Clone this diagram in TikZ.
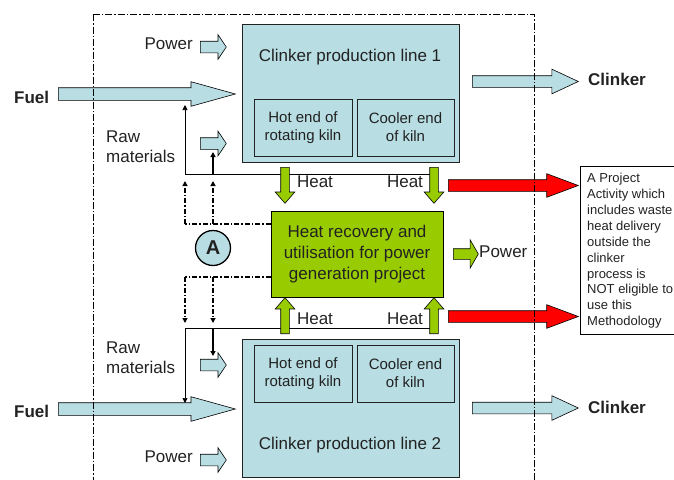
\documentclass[tikz,border=0pt]{standalone}
\usepackage{fontspec}
\setmainfont{Liberation Sans}
\usetikzlibrary{arrows.meta,shapes.arrows,backgrounds}
\definecolor{KilnBlue}{HTML}{B8DEE3}
\definecolor{RecGreen}{HTML}{99CC00}
\definecolor{LossRed}{HTML}{FF0000}
\definecolor{InkGray}{HTML}{222222}
\newcommand{\fs}[2]{\fontsize{#1}{#2}\selectfont}

\begin{document}
\begin{tikzpicture}[x=1pt,y=-1pt,
    every node/.style={text=InkGray},
    lbl/.style={font=\fs{17}{20}, inner sep=0pt},
    boldlbl/.style={font=\bfseries\fs{17}{20}, inner sep=0pt},
    kiln/.style={draw=InkGray, fill=KilnBlue, line width=0.8pt, inner sep=0pt},
    part/.style={kiln, align=center, font=\fs{15}{18}},
    barrow/.style={single arrow, draw=black, line width=0.6pt, inner sep=0pt, anchor=tail},
    fuelarr/.style={barrow, fill=KilnBlue, inner ysep=6pt, single arrow head extend=6pt, single arrow tip angle=31, minimum height=177pt},
    smallarr/.style={barrow, fill=KilnBlue, inner ysep=5.5pt, single arrow head extend=6.5pt, single arrow tip angle=112, minimum height=26pt, minimum width=24pt},
    clkarr/.style={barrow, fill=KilnBlue, inner ysep=5.5pt, single arrow head extend=6.5pt, single arrow tip angle=50, minimum height=106pt},
    lossarr/.style={barrow, fill=LossRed, inner ysep=5.5pt, single arrow head extend=6pt, single arrow tip angle=41, minimum height=130pt},
    heatarr/.style={barrow, fill=RecGreen, inner ysep=4pt, single arrow head extend=5.5pt, single arrow tip angle=82, minimum height=36pt},
    pwoarr/.style={barrow, fill=RecGreen, inner ysep=5pt, single arrow head extend=9pt, single arrow tip angle=120, minimum height=25pt, minimum width=28pt},
    feed/.style={draw=black, line width=0.7pt},
    feedthick/.style={draw=black, line width=1.6pt},
    fback/.style={draw=black, line width=1.3pt, dash pattern=on 5pt off 2pt on 1.5pt off 2pt},
    tip/.style={-{Triangle[length=5pt,width=5pt]}},
    frame/.style={draw=black, line width=0.7pt, dash pattern=on 7pt off 2pt on 1.5pt off 2pt}]
  \useasboundingbox (0,0) rectangle (674,479);

  % clinker production lines
  \node[kiln, minimum width=217pt, minimum height=138pt, anchor=north west] (line1) at (242,24) {};
  \node[lbl] (line1t) at (350,57) {Clinker production line 1};
  \node[part, minimum width=98pt, minimum height=57pt] (hot1) at (303,127.5) {Hot end of\\rotating kiln};
  \node[part, minimum width=97pt, minimum height=57pt] (cool1) at (405.5,127.5) {Cooler end\\of kiln};
  \node[kiln, minimum width=217pt, minimum height=138pt, anchor=north west] (line2) at (242,339) {};
  \node[lbl] (line2t) at (350,445) {Clinker production line 2};
  \node[part, minimum width=98pt, minimum height=57pt] (hot2) at (303,373.5) {Hot end of\\rotating kiln};
  \node[part, minimum width=97pt, minimum height=57pt] (cool2) at (405.5,373.5) {Cooler end\\of kiln};

  % inputs
  \node[fuelarr] (fuel1) at (58,94) {};
  \node[boldlbl, anchor=west] (fuellbl1) at (14,97) {Fuel};
  \node[fuelarr] (fuel2) at (58,409) {};
  \node[boldlbl, anchor=west] (fuellbl2) at (14,411) {Fuel};
  \node[smallarr] (pw1) at (200,47) {};
  \node[lbl, anchor=east] (pwlbl1) at (193,44) {Power};
  \node[smallarr] (pw2) at (200,460) {};
  \node[lbl, anchor=east] (pwlbl2) at (193,457) {Power};
  \node[smallarr] (raw1) at (200,143.5) {};
  \node[lbl, align=left, anchor=north west] (rawlbl1) at (106,131) {Raw\\materials};
  \node[smallarr] (raw2) at (200,365) {};
  \node[lbl, align=left, anchor=north west] (rawlbl2) at (106,342) {Raw\\materials};

  % outputs
  \node[clkarr] (clk1) at (472,81.5) {};
  \node[boldlbl, anchor=west] (clklbl1) at (588,79) {Clinker};
  \node[clkarr] (clk2) at (472,408) {};
  \node[boldlbl, anchor=west] (clklbl2) at (588,407) {Clinker};

  % heat recovery
  \node[draw=black, fill=RecGreen, line width=0.8pt, minimum width=172pt, minimum height=86pt,
        align=center, font=\fs{17}{21}] (hrec) at (357,254) {Heat recovery and\\utilisation for power\\generation project};
  \node[heatarr, rotate=-90] (hd1) at (285,167) {};
  \node[heatarr, rotate=-90] (hd2) at (434,167) {};
  \node[heatarr, rotate=90] (hu1) at (285,334) {};
  \node[heatarr, rotate=90] (hu2) at (434,334) {};
  \node[lbl] (htlbl1) at (315,182) {Heat};
  \node[lbl] (htlbl2) at (405,182) {Heat};
  \node[lbl] (htlbl3) at (315,319) {Heat};
  \node[lbl] (htlbl4) at (405,319) {Heat};
  \node[pwoarr] (pwo) at (453,254) {};
  \node[lbl, anchor=west] (pwolbl) at (479,252) {Power};
  \node[circle, draw=black, fill=KilnBlue, line width=1.3pt, minimum size=35pt, inner sep=0pt,
        font=\bfseries\fs{20}{24}] (cA) at (213,248) {A};

  % waste heat delivered outside
  \node[lossarr] (loss1) at (448,185.5) {};
  \node[lossarr] (loss2) at (448,316.5) {};
  \node[draw=black, line width=0.7pt, minimum width=120pt, minimum height=168pt, anchor=north west] (note) at (580,166) {};
  \node[anchor=north west, inner sep=0pt, align=left, font=\fs{13}{15.9}] (notetxt) at (587,173)
    {A Project\\Activity which\\includes waste\\heat delivery\\outside the\\clinker\\process is\\NOT eligible to\\use this\\Methodology};

  % feeds from the heat lines
  \coordinate (j1a) at (185,174);
  \coordinate (j1b) at (213,174);
  \coordinate (j2a) at (185,328);
  \coordinate (j2b) at (213,328);
  \coordinate (fuelin1) at (185,105);
  \coordinate (rawin1) at (213,152);
  \coordinate (fuelin2) at (185,403);
  \coordinate (rawin2) at (213,356);
  \coordinate (dA1) at (185,224);
  \coordinate (dA2) at (213,224);
  \coordinate (dB1) at (185,277);
  \coordinate (dB2) at (213,277);
  \begin{scope}[on background layer]
    \draw[feed] (j1a) -- (j1a -| hd2);
    \draw[feed] (j2a) -- (j2a -| hu2);
  \end{scope}
  \draw[feed, tip] (j1a) -- (fuelin1);
  \draw[feedthick, tip] (j1b) -- (rawin1);
  \draw[feed, tip] (j2a) -- (fuelin2);
  \draw[feedthick, tip] (j2b) -- (rawin2);
  \draw[fback] (dA1 -| hrec.west) -- (dA1);
  \draw[fback, tip, shorten >=7pt] (dA1) -- (j1a);
  \draw[fback, tip, shorten >=7pt] (dA2) -- (j1b);
  \draw[fback] (dB1 -| hrec.west) -- (dB1);
  \draw[fback, tip, shorten >=5pt] (dB1) -- (j2a);
  \draw[fback, tip, shorten >=5pt] (dB2) -- (j2b);

  % project boundary
  \draw[frame] (93,14) rectangle (534,495);
\end{tikzpicture}
\end{document}
